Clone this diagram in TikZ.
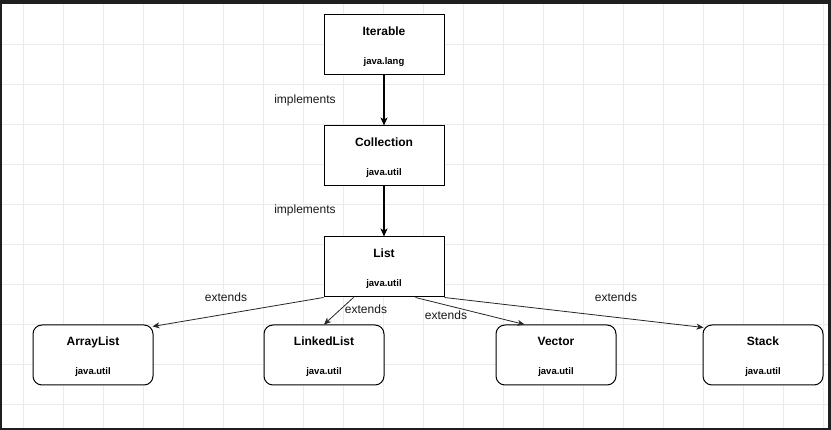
\documentclass[tikz,border=0pt]{standalone}
\usepackage{fontspec}
\setmainfont{Liberation Sans}
\usetikzlibrary{arrows.meta,positioning,calc}

\definecolor{gridline}{HTML}{EBEBEB}
\definecolor{frame}{HTML}{1F1F1F}

\begin{document}
\begin{tikzpicture}[
    x=1pt, y=-1pt,
    iface/.style={rectangle, draw, line width=1pt, fill=white, minimum width=120pt, minimum height=60pt, inner sep=0pt, font=\fontsize{12}{14}\selectfont, align=center},
    impl/.style={iface, rounded corners=9pt},
    arrow/.style={-{Stealth[length=8pt,width=7pt,inset=2pt]}, line width=1.2pt},
    extarrow/.style={-{Stealth[length=7pt,width=6pt,inset=2pt]}, line width=0.8pt, black!85},
    tag/.style={font=\fontsize{12}{14}\selectfont, text=black!90, inner sep=0pt},
]
    \useasboundingbox (0,0) rectangle (831,430);

    % Canvas with grid
    \fill[frame] (0,0) rectangle (831,430);
    \fill[white] (2,4) rectangle (828,428);
    \foreach \gx in {23,63,...,823}
        \draw[gridline, line width=0.7pt] (\gx,4) -- (\gx,428);
    \foreach \gy in {44,84,...,404}
        \draw[gridline, line width=0.7pt] (2,\gy) -- (828,\gy);

    % Interfaces (top column)
    \node[iface] (iter) at (384,45) {\rule{0pt}{12pt}\textbf{Iterable}\\[14.5pt]{\fontsize{9.5}{11}\selectfont\bfseries java.lang}};
    \node[iface, below=50pt of iter] (coll) {\rule{0pt}{12pt}\textbf{Collection}\\[14.5pt]{\fontsize{9.5}{11}\selectfont\bfseries java.util}};
    \node[iface, below=50pt of coll] (list) {\rule{0pt}{12pt}\textbf{List}\\[14.5pt]{\fontsize{9.5}{11}\selectfont\bfseries java.util}};

    % Implementations (bottom row)
    \node[impl] (alist) at (93,355) {\rule{0pt}{12pt}\textbf{ArrayList}\\[14.5pt]{\fontsize{9.5}{11}\selectfont\bfseries java.util}};
    \node[impl] (llist) at (324,355) {\rule{0pt}{12pt}\textbf{LinkedList}\\[14.5pt]{\fontsize{9.5}{11}\selectfont\bfseries java.util}};
    \node[impl] (vec) at (556,355) {\rule{0pt}{12pt}\textbf{Vector}\\[14.5pt]{\fontsize{9.5}{11}\selectfont\bfseries java.util}};
    \node[impl] (stk) at (763,355) {\rule{0pt}{12pt}\textbf{Stack}\\[14.5pt]{\fontsize{9.5}{11}\selectfont\bfseries java.util}};

    % Arrows down the column
    \draw[arrow] (iter) -- (coll);
    \draw[arrow] (coll) -- (list);

    % Arrows from List to the classes
    \draw[extarrow] (list.south west) -- ($(alist.north east)+(-1,2)$);
    \draw[extarrow] ($(list.south west)+(30,0)$) -- (llist.north);
    \draw[extarrow] ($(list.south west)+(92,0)$) -- ($(vec.north west)+(29,0)$);
    \draw[extarrow] (list.south east) -- ($(stk.north west)+(1,3)$);

    % Labels
    \node[tag] (impA) at (305,100) {implements};
    \node[tag] (impB) at (305,210) {implements};
    \node[tag] (extA) at (226,297) {extends};
    \node[tag] (extB) at (366,309) {extends};
    \node[tag] (extC) at (446,315) {extends};
    \node[tag] (extD) at (616,297) {extends};
\end{tikzpicture}
\end{document}
